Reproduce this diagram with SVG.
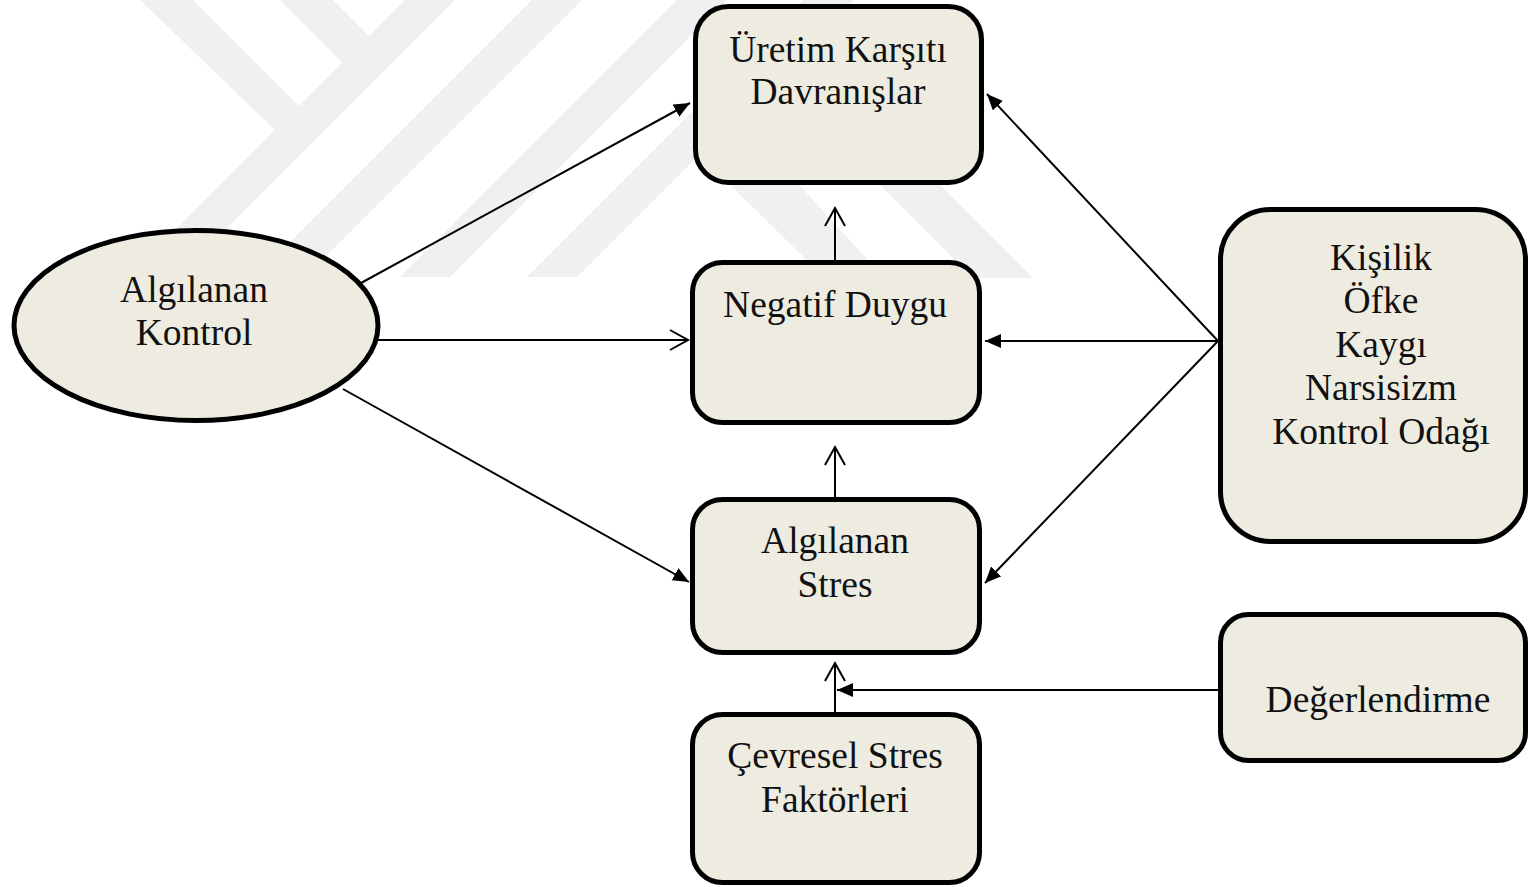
<svg xmlns="http://www.w3.org/2000/svg" width="1528" height="887" viewBox="0 0 1528 887">
<style>
.node{fill:#EEECE1;stroke:#000;stroke-width:5}
.lbl{font-family:"Liberation Serif","Times New Roman",serif;font-size:37.5px;fill:#111;text-anchor:middle}
.wm{fill:#f0f0f0}
.cn{stroke:#000;stroke-width:2;fill:none}
</style>
<defs>
<marker id="fa" markerUnits="userSpaceOnUse" markerWidth="18" markerHeight="16" refX="16" refY="7" orient="auto"><path d="M0,0 L16,7 L0,14 z" fill="#000"/></marker>
<marker id="oa" markerUnits="userSpaceOnUse" markerWidth="22" markerHeight="24" refX="19" refY="11" orient="auto"><path d="M1,1 L19,11 L1,21" fill="none" stroke="#000" stroke-width="2"/></marker>
</defs>
<rect width="1528" height="887" fill="#fff"/>
<g id="watermark">
<polygon class="wm" points="140,0 193,0 310,117 280,135"/>
<polygon class="wm" points="280,0 333,0 375,42 350,70"/>
<polygon class="wm" points="405,0 455,0 178,277 128,277"/>
<polygon class="wm" points="532,0 582,0 305,277 255,277"/>
<polygon class="wm" points="677,0 727,0 450,277 400,277"/>
<polygon class="wm" points="804,0 854,0 577,277 527,277"/>
<polygon class="wm" points="720,175 790,175 880,273 820,273"/>
<polygon class="wm" points="870,175 930,175 1033,278 973,278"/>
</g>
<g id="connectors">
<line class="cn" x1="361" y1="283" x2="690" y2="103" marker-end="url(#fa)"/>
<line class="cn" x1="378" y1="340" x2="688" y2="340" marker-end="url(#oa)"/>
<line class="cn" x1="343" y1="389" x2="689" y2="582" marker-end="url(#fa)"/>
<line class="cn" x1="835" y1="262" x2="835" y2="208" marker-end="url(#oa)"/>
<line class="cn" x1="835" y1="497" x2="835" y2="447" marker-end="url(#oa)"/>
<line class="cn" x1="835" y1="712" x2="835" y2="663" marker-end="url(#oa)"/>
<line class="cn" x1="1218" y1="690" x2="837" y2="690" marker-end="url(#fa)"/>
<line class="cn" x1="1218" y1="341" x2="987" y2="94" marker-end="url(#fa)"/>
<line class="cn" x1="1218" y1="341" x2="985" y2="341" marker-end="url(#fa)"/>
<line class="cn" x1="1218" y1="341" x2="985" y2="583" marker-end="url(#fa)"/>
</g>
<g id="algilanan-kontrol">
<ellipse class="node" cx="196" cy="325.5" rx="182" ry="95"/>
<text class="lbl" x="194" y="302">Algılanan</text>
<text class="lbl" x="194" y="345">Kontrol</text>
</g>
<g id="uretim-karsiti">
<rect class="node" x="695.5" y="6.5" width="286" height="176" rx="33"/>
<text class="lbl" x="838" y="62">Üretim Karşıtı</text>
<text class="lbl" x="838" y="104">Davranışlar</text>
</g>
<g id="negatif-duygu">
<rect class="node" x="692.5" y="262.5" width="287" height="160" rx="30"/>
<text class="lbl" x="835" y="317">Negatif Duygu</text>
</g>
<g id="algilanan-stres">
<rect class="node" x="692.5" y="499.5" width="287" height="153" rx="30"/>
<text class="lbl" x="835" y="553">Algılanan</text>
<text class="lbl" x="835" y="597">Stres</text>
</g>
<g id="cevresel-stres">
<rect class="node" x="692.5" y="714.5" width="287" height="168" rx="30"/>
<text class="lbl" x="835" y="768">Çevresel Stres</text>
<text class="lbl" x="835" y="812">Faktörleri</text>
</g>
<g id="kisilik">
<rect class="node" x="1220.5" y="209.5" width="305" height="332" rx="50"/>
<text class="lbl" x="1381" y="270">Kişilik</text>
<text class="lbl" x="1381" y="313">Öfke</text>
<text class="lbl" x="1381" y="357">Kaygı</text>
<text class="lbl" x="1381" y="400">Narsisizm</text>
<text class="lbl" x="1381" y="444">Kontrol Odağı</text>
</g>
<g id="degerlendirme">
<rect class="node" x="1220.5" y="614.5" width="305" height="146" rx="28"/>
<text class="lbl" x="1378" y="712">Değerlendirme</text>
</g>
</svg>
